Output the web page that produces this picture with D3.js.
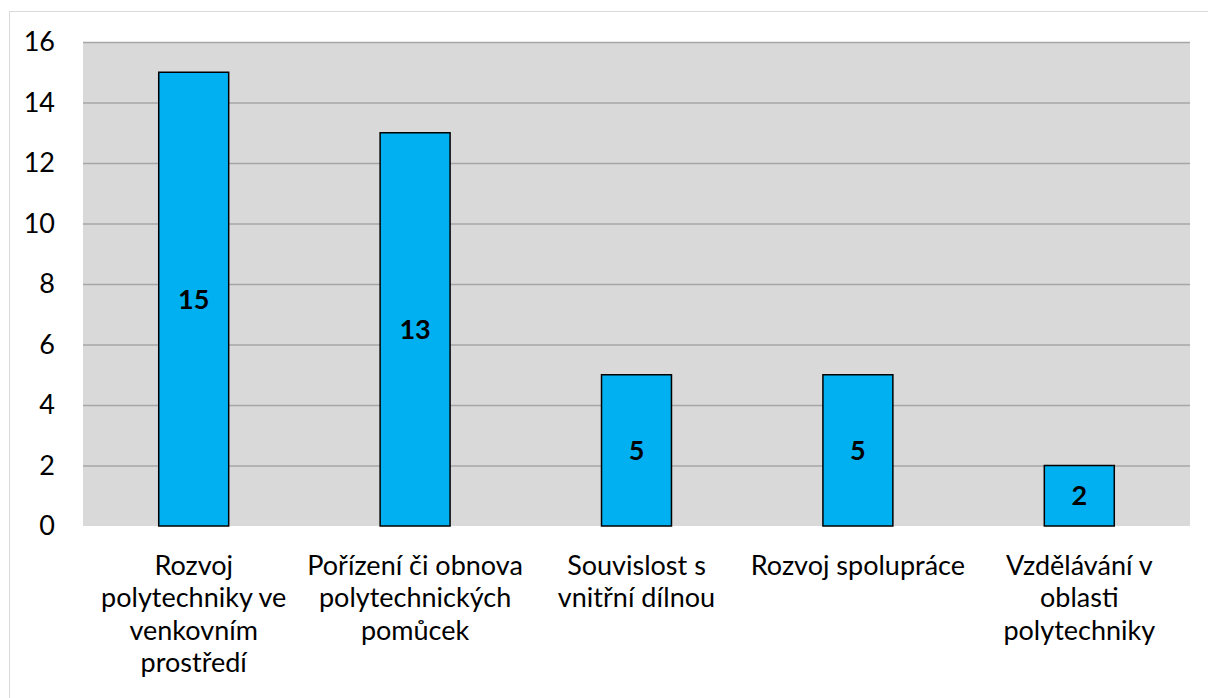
<!DOCTYPE html>
<html><head><meta charset="utf-8">
<script src="https://cdn.jsdelivr.net/npm/d3@7"></script>
<style>html,body{margin:0;padding:0;background:#fff;}svg{display:block;}</style>
</head><body>
<svg id="c" width="1208" height="698"></svg>
<script>
const categories = ["Rozvoj polytechniky ve venkovním prostředí","Pořízení či obnova polytechnických pomůcek","Souvislost s vnitřní dílnou","Rozvoj spolupráce","Vzdělávání v oblasti polytechniky"];
const categoryLines = [["Rozvoj","polytechniky ve","venkovním","prostředí"],["Pořízení či obnova","polytechnických","pomůcek"],["Souvislost s","vnitřní dílnou"],["Rozvoj spolupráce"],["Vzdělávání v","oblasti","polytechniky"]];
const values = [15, 13, 5, 5, 2];
const yTicks = [0, 2, 4, 6, 8, 10, 12, 14, 16];

(function () {
const svg = d3.select("#c");
const font = "Lato, 'Noto Sans', sans-serif";
const fs = 27;
const pL = 83, pR = 1190, pT = 42, pB = 526;

// chart border
svg.append("rect").attr("x", 9.5).attr("y", 11.5).attr("width", 1220).attr("height", 720)
  .attr("fill", "#fff").attr("stroke", "#d9d9d9").attr("stroke-width", 1);

const x = d3.scaleBand().domain(categories).range([pL, pR]).paddingInner(0.684).paddingOuter(0.342);
const y = d3.scaleLinear().domain([0, 16]).range([pB, pT]);

svg.append("rect").attr("x", pL).attr("y", pT).attr("width", pR - pL).attr("height", pB - pT).attr("fill", "#d9d9d9");

const gy = svg.append("g").attr("transform", `translate(${pL},0)`)
  .call(d3.axisLeft(y).tickValues(yTicks).tickSize(-(pR - pL)).tickPadding(28).tickFormat(d3.format("d")));
gy.select(".domain").remove();
gy.selectAll(".tick line").attr("stroke", "#a6a6a6").attr("stroke-width", 1.5)
  .attr("display", d => d === 0 ? "none" : null);
gy.selectAll(".tick text").attr("font-family", font).attr("font-size", fs).attr("fill", "#000");

svg.append("g").selectAll("rect").data(values).join("rect")
  .attr("x", (d, i) => x(categories[i]))
  .attr("y", d => y(d))
  .attr("width", x.bandwidth())
  .attr("height", d => y(0) - y(d))
  .attr("fill", "#00b0f0").attr("stroke", "#000").attr("stroke-width", 1.5);

svg.append("g").selectAll("text").data(values).join("text")
  .attr("x", (d, i) => x(categories[i]) + x.bandwidth() / 2)
  .attr("y", d => (y(d) + y(0)) / 2)
  .attr("dy", "0.35em").attr("text-anchor", "middle")
  .attr("font-family", font).attr("font-size", fs).attr("font-weight", "bold").attr("fill", "#000")
  .text(d => d);

const gx = svg.append("g");
categoryLines.forEach((lines, i) => {
  const t = gx.append("text").attr("text-anchor", "middle")
    .attr("font-family", font).attr("font-size", fs).attr("fill", "#000");
  lines.forEach((ln, j) => {
    t.append("tspan").attr("x", x(categories[i]) + x.bandwidth() / 2)
      .attr("y", 575 + j * 32.3).text(ln);
  });
});
})();
</script>
</body></html>
